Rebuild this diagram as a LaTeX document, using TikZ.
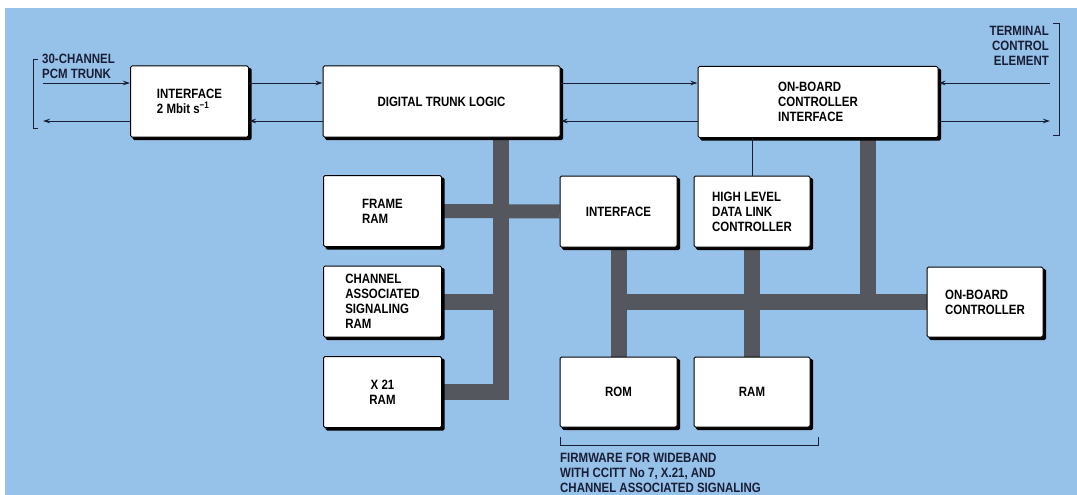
\documentclass[tikz,border=0pt]{standalone}
\usepackage{fontspec}
\setmainfont{Liberation Sans}[FakeStretch=0.85]
\usetikzlibrary{arrows.meta,backgrounds}
\definecolor{panelblue}{RGB}{150,193,232}
\definecolor{busgray}{RGB}{84,88,94}
\definecolor{ink}{RGB}{25,30,55}

\begin{document}
\begin{tikzpicture}[x=1pt,y=-1pt,>={Stealth[length=7pt,width=4.5pt]},
	font=\fontsize{13.5}{15}\selectfont\bfseries,
	blk/.style={draw,fill=white,line width=1pt,rounded corners=1.5pt,inner sep=0pt,
		minimum width=118pt,minimum height=71pt},
	bus/.style={busgray,line width=16pt},
	sig/.style={ink,line width=0.9pt},
	lbl/.style={ink,inner sep=0pt,align=left}]
	
	\useasboundingbox (0,0) rectangle (1077,495);
	
	% top row
	\node[blk,align=left] (ifc) at (189.5,101.5) {INTERFACE\\2 Mbit s\textsuperscript{−1}};
	\node[blk,minimum width=237pt] (dtl) at (441.5,101.5) {DIGITAL TRUNK LOGIC};
	\node[blk,minimum width=240pt,align=left] (obci) at (818,102) {ON-BOARD\\CONTROLLER\\INTERFACE};
	
	% memories on the left
	\node[blk,align=left] (fram) at (382.5,211) {FRAME\\RAM};
	\node[blk,align=left] (casram) at (382.5,301.5) {CHANNEL\\ASSOCIATED\\SIGNALING\\RAM};
	\node[blk,align=center] (xram) at (382.5,392) {X 21\\RAM};
	
	% middle column
	\node[blk,minimum width=117pt] (mifc) at (618.5,211.5) {INTERFACE};
	\node[blk,minimum width=116pt,align=left] (hdlc) at (752,211.5) {HIGH LEVEL\\DATA LINK\\CONTROLLER};
	\node[blk,minimum width=117pt,minimum height=70pt] (rom) at (618.5,392) {ROM};
	\node[blk,minimum width=116pt,minimum height=70pt] (ram) at (752,392) {RAM};
	\node[blk,minimum width=116pt,minimum height=70pt,align=left] (obc) at (985,302) {ON-BOARD\\CONTROLLER};
	
	% rows and columns
	\coordinate (rowT) at (0,83);
	\coordinate (rowB) at (0,121);
	\coordinate (colA) at (501,0);
	\coordinate (colB) at (868,0);
	\coordinate (trunk) at (43,0);
	\coordinate (term) at (1050,0);
	
	\begin{pgfonlayer}{background}
		\fill[white] (0,0) rectangle (1077,495);
		\fill[panelblue] (5,8) rectangle (1077,495);
		% buses
		\draw[bus,line join=miter] (colA |- dtl.south) |- (xram.east);
		\draw[bus] (casram.east) -- (colA |- casram.east);
		\draw[bus,line width=14pt] (fram.east) -- (mifc.west);
		\draw[bus] (mifc.south) -- (rom.north);
		\draw[bus] (hdlc.south) -- (ram.north);
		\draw[bus] (mifc.south |- obc.west) -- (obc.west);
		\draw[bus] (colB |- obci.south) -- (colB |- obc.west);
		% shadows of the boxes
		\foreach \b in {ifc,dtl,obci,fram,casram,xram,mifc,hdlc,rom,ram,obc}
			\fill[black,rounded corners=1.5pt] ([shift={(2.6pt,-2.6pt)}]\b.south west) rectangle ([shift={(2.6pt,-2.6pt)}]\b.north east);
	\end{pgfonlayer}
	
	% thin link to the HDLC
	\draw[sig] (hdlc.north |- obci.south) -- (hdlc.north);
	
	% signal paths
	\draw[sig,->] (trunk |- rowT) -- (ifc.west |- rowT);
	\draw[sig,<-] (trunk |- rowB) -- (ifc.west |- rowB);
	\draw[sig,->] (ifc.east |- rowT) -- (dtl.west |- rowT);
	\draw[sig,<-] (ifc.east |- rowB) -- (dtl.west |- rowB);
	\draw[sig,->] (dtl.east |- rowT) -- (obci.west |- rowT);
	\draw[sig,<-] (dtl.east |- rowB) -- (obci.west |- rowB);
	\draw[sig,<-] (obci.east |- rowT) -- (term |- rowT);
	\draw[sig,->] (obci.east |- rowB) -- (term |- rowB);
	
	% brackets
	\draw[sig] (38,59) -- (33,59) -- (33,128) -- (38,128);
	\draw[sig] (1053,23) -- (1059,23) -- (1059,135) -- (1053,135);
	\draw[sig] (560,437) -- (560,445) -- (818,445) -- (818,437);
	
	% labels
	\node[lbl,anchor=north west] (trunklbl) at (42,54) {30-CHANNEL\\PCM TRUNK};
	\node[lbl,anchor=north east,align=right] (termlbl) at (1049,26) {TERMINAL\\CONTROL\\ELEMENT};
	\node[lbl,anchor=north west] (fwlbl) at (560,453) {FIRMWARE FOR WIDEBAND\\WITH CCITT No 7, X.21, AND\\CHANNEL ASSOCIATED SIGNALING};
	
\end{tikzpicture}
\end{document}
